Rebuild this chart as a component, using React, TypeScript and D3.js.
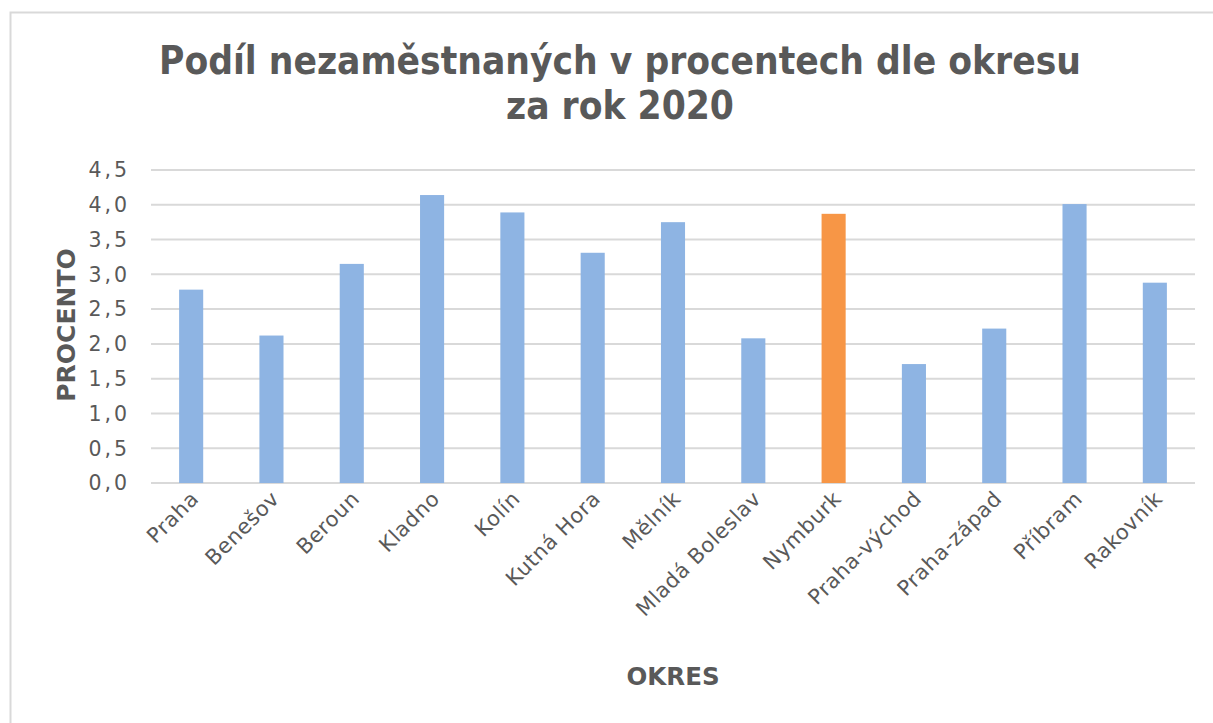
import React from "react";
import * as d3 from "d3";

const categories = ["Praha","Benešov","Beroun","Kladno","Kolín","Kutná Hora","Mělník","Mladá Boleslav","Nymburk","Praha-východ","Praha-západ","Příbram","Rakovník"];
const values = [2.78, 2.12, 3.15, 4.14, 3.89, 3.31, 3.75, 2.08, 3.87, 1.71, 2.22, 4.01, 2.88];
const highlighted = ["Nymburk"];
const yTicks = [0, 0.5, 1, 1.5, 2, 2.5, 3, 3.5, 4, 4.5];
const titleLines = ["Podíl nezaměstnaných v procentech dle okresu", "za rok 2020"];

const W = 1213, H = 723;
const M = { left: 151, right: 1195, top: 170, bottom: 483 };
const textColor = "#595959";
const font = "'DejaVu Sans', sans-serif";

export default function App() {
  const x = d3.scaleBand<string>().domain(categories).range([M.left, M.right]).paddingInner(0.7).paddingOuter(0.35);
  const y = d3.scaleLinear().domain([0, 4.5]).range([M.bottom, M.top]);
  const fmt = (v: number) => d3.format(".1f")(v).replace(".", ",");
  return (
    <svg width={W} height={H} style={{ position: "absolute", left: 0, top: 0, background: "#fff" }}>
      <rect x={10.5} y={12.5} width={1230} height={740} fill="#fff" stroke="#d9d9d9" strokeWidth={2} />
      {titleLines.map((t, i) => (
        <text key={i} x={620} y={74 + i * 45} textAnchor="middle" fill={textColor} fontFamily={font} fontWeight="bold" fontSize={38.5} style={{ fontStretch: "condensed" }}>{t}</text>
      ))}
      {yTicks.map((t) => (
        <g key={t}>
          <line x1={M.left} x2={M.right} y1={y(t)} y2={y(t)} stroke="#d9d9d9" strokeWidth={2} />
          <text x={130} y={y(t)} dy="0.36em" textAnchor="end" fill={textColor} fontFamily={font} fontSize={20.5} letterSpacing={3}>{fmt(t)}</text>
        </g>
      ))}
      {categories.map((c, i) => (
        <rect key={c} x={x(c)} y={y(values[i])} width={x.bandwidth()} height={y(0) - y(values[i])}
          fill={highlighted.includes(c) ? "#f79646" : "#8eb4e3"} />
      ))}
      {categories.map((c) => {
        const cx = (x(c) as number) + x.bandwidth() / 2 + 9;
        const cy = 500;
        return (
          <text key={c} x={cx} y={cy} textAnchor="end" transform={`rotate(-45, ${cx}, ${cy})`} fill={textColor} fontFamily={font} fontSize={21} letterSpacing={0.6}>{c}</text>
        );
      })}
      <text x={0} y={0} transform={`translate(75, ${325}) rotate(-90)`} textAnchor="middle" fill={textColor} fontFamily={font} fontWeight="bold" fontSize={25}>PROCENTO</text>
      <text x={673} y={685} textAnchor="middle" fill={textColor} fontFamily={font} fontWeight="bold" fontSize={24.5}>OKRES</text>
    </svg>
  );
}
